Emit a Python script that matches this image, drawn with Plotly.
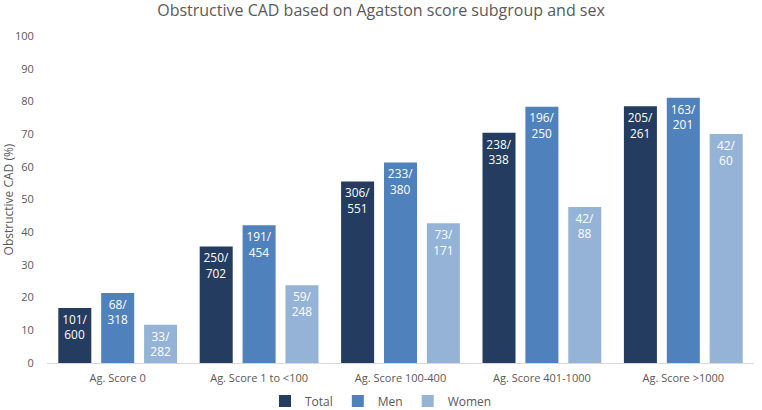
import plotly.graph_objects as go

categories = ["Ag. Score 0", "Ag. Score 1 to <100", "Ag. Score 100-400", "Ag. Score 401-1000", "Ag. Score >1000"]
total_pct = [16.8, 35.6, 55.5, 70.4, 78.5]
men_pct = [21.4, 42.1, 61.3, 78.4, 81.1]
women_pct = [11.7, 23.8, 42.7, 47.7, 70.0]
total_lbl = ["101/<br>600", "250/<br>702", "306/<br>551", "238/<br>338", "205/<br>261"]
men_lbl = ["68/<br>318", "191/<br>454", "233/<br>380", "196/<br>250", "163/<br>201"]
women_lbl = ["33/<br>282", "59/<br>248", "73/<br>171", "42/<br>88", "42/<br>60"]
y_ticks = [0, 10, 20, 30, 40, 50, 60, 70, 80, 90, 100]

series = [
    ("Total", total_pct, total_lbl, "#233C60"),
    ("Men", men_pct, men_lbl, "#4F81BD"),
    ("Women", women_pct, women_lbl, "#95B3D7"),
]

fig = go.Figure()
for name, vals, lbls, col in series:
    fig.add_trace(go.Bar(
        name=name, x=categories, y=vals, text=lbls,
        textposition="inside", insidetextanchor="end",
        textfont=dict(color="white", size=12, family="Open Sans"),
        marker=dict(color=col, line=dict(width=0)),
    ))

fig.update_layout(
    width=762, height=410,
    margin=dict(l=47, r=8, t=36, b=47, autoexpand=False),
    paper_bgcolor="white", plot_bgcolor="white",
    barmode="group", bargap=0.09, bargroupgap=0.23,
    font=dict(family="Open Sans", color="#595959", size=11),
    title=dict(text="Obstructive CAD based on Agatston score subgroup and sex",
               x=0.5, xanchor="center", xref="container", y=0.975, yref="container", yanchor="middle",
               font=dict(size=16, color="#595959")),
    uniformtext=dict(minsize=11, mode="show"),
    legend=dict(orientation="h", x=0.5, xanchor="center", xref="container",
                y=0.022, yref="container", yanchor="middle",
                font=dict(size=12, color="#595959"), traceorder="normal",
                itemwidth=30, tracegroupgap=0),
    xaxis=dict(showline=True, linecolor="#D9D9D9", linewidth=1, ticks="outside",
               ticklen=5, tickcolor="rgba(0,0,0,0)", automargin=False,
               tickfont=dict(size=11, color="#595959")),
    yaxis=dict(range=[0, 100], tickvals=y_ticks, showgrid=False, zeroline=False,
               showline=False, automargin=False, ticks="outside", ticklen=10,
               tickcolor="rgba(0,0,0,0)",
               tickfont=dict(size=11, color="#595959"),
               title=dict(text="Obstructive CAD (%)", font=dict(size=12, color="#595959"), standoff=4)),
)

fig.write_html("out.html", config={"displayModeBar": False},
               post_script="document.body.style.margin='0';document.body.style.overflow='hidden';")
